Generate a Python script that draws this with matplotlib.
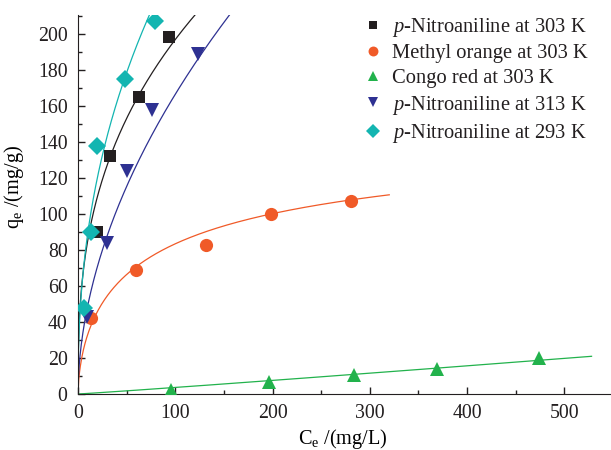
import numpy as np
import matplotlib
matplotlib.use('Agg')
import matplotlib.pyplot as plt

plt.rcParams['font.family'] = ['Liberation Serif', 'DejaVu Serif']
plt.rcParams['mathtext.fontset'] = 'custom'
plt.rcParams['mathtext.rm'] = 'Liberation Serif'
plt.rcParams['mathtext.it'] = 'Liberation Serif:italic'
plt.rcParams['text.color'] = '#231f20'
plt.rcParams['xtick.color'] = '#231f20'
plt.rcParams['ytick.color'] = '#231f20'
plt.rcParams['axes.edgecolor'] = '#231f20'

# measured points (Ce in mg/L, qe in mg/g)
pna303_c = [19, 33, 63, 94]
pna303_q = [90, 132, 165, 198]
mo_c = [13, 60, 132, 198, 281]
mo_q = [42, 69, 83, 100, 107]
cr_c = [96, 196, 284, 369, 474]
cr_q = [2.5, 6.5, 10.3, 14, 19.8]
pna313_c = [9, 29.5, 50, 76, 123]
pna313_q = [43, 84, 124, 158, 189]
pna293_c = [6, 13, 20, 48, 79]
pna293_q = [48, 90, 138, 175, 207]

labels = ['$\\it{p}$-Nitroaniline at 303 K', 'Methyl orange at 303 K',
          'Congo red at 303 K', '$\\it{p}$-Nitroaniline at 313 K',
          '$\\it{p}$-Nitroaniline at 293 K']

# isotherm fit parameters
# Freundlich: q = kf * c**nf  (kf, nf, end of curve)
pna303_fit = (37.0, 0.363, 130)
pna313_fit = (14.5, 0.53, 165)
pna293_fit = (33.2, 0.43, 80)
cr_fit = (0.029, 1.05, 528)
# Sips for methyl orange: q = qm*(k c)^n/(1+(k c)^n)
mo_fit = (160, 0.0627, 0.62, 320)

colors = ['#231f20', '#f05a28', '#22b24c', '#2e3192', '#13b5b1']


def freundlich(fit):
    kf, nf, cmax = fit
    c = np.linspace(0, cmax, 400)
    return c, kf * c ** nf


def sips(fit):
    qm, k, n, cmax = fit
    c = np.linspace(0, cmax, 400)
    y = k * c ** n
    return c, qm * y / (1 + y)


fig = plt.figure(figsize=(6.11, 4.5), dpi=100)
ax = fig.add_axes([0.1277, 0.1244, 0.8723, 0.8423])

curves = [freundlich(pna303_fit), sips(mo_fit), freundlich(cr_fit),
          freundlich(pna313_fit), freundlich(pna293_fit)]
for (c, q), col in zip(curves, colors):
    ax.plot(c, q, '-', color=col, linewidth=0.9)

pts = [(pna303_c, pna303_q, 's'), (mo_c, mo_q, 'o'), (cr_c, cr_q, '^'),
       (pna313_c, pna313_q, 'v'), (pna293_c, pna293_q, 'D')]
sizes = [8.5, 9.5, 10.5, 10.5, 9]
for (c, q, m), col, lab, ms in zip(pts, colors, labels, sizes):
    ax.plot(c, q, m, color=col, markersize=ms, markeredgewidth=0,
            linestyle='none', label=lab, zorder=3)

ax.set_xlim(0, 548)
ax.set_ylim(0, 210.5)
ax.set_xticks([0, 100, 200, 300, 400, 500])
ax.set_xticks(np.arange(50, 548, 100), minor=True)
ax.set_yticks(np.arange(0, 201, 20))
ax.set_yticks(np.arange(10, 211, 20), minor=True)
ax.tick_params(direction='in', length=5, width=1, labelsize=14.3)
ax.tick_params(axis='x', pad=7)
ax.tick_params(axis='y', pad=7.5)
ax.tick_params(which='minor', direction='in', length=3, width=1)
ax.spines['top'].set_visible(False)
ax.spines['right'].set_visible(False)
ax.set_xlabel('C$_\\mathregular{e}$ /(mg/L)', fontsize=14.6)
ax.xaxis.set_label_coords(0.497, -0.086)
ax.set_ylabel('q$_\\mathregular{e}$ /(mg/g)', fontsize=14.6)
ax.yaxis.set_label_coords(-0.097, 0.545)

ax.legend(loc='upper left', bbox_to_anchor=(0.593, 0.965), bbox_transform=fig.transFigure,
          frameon=False, fontsize=14.8, handletextpad=0.42, labelspacing=0.26,
          handlelength=1.0, borderpad=0, borderaxespad=0, markerscale=0.75)

fig.savefig('out.png', dpi=100)
